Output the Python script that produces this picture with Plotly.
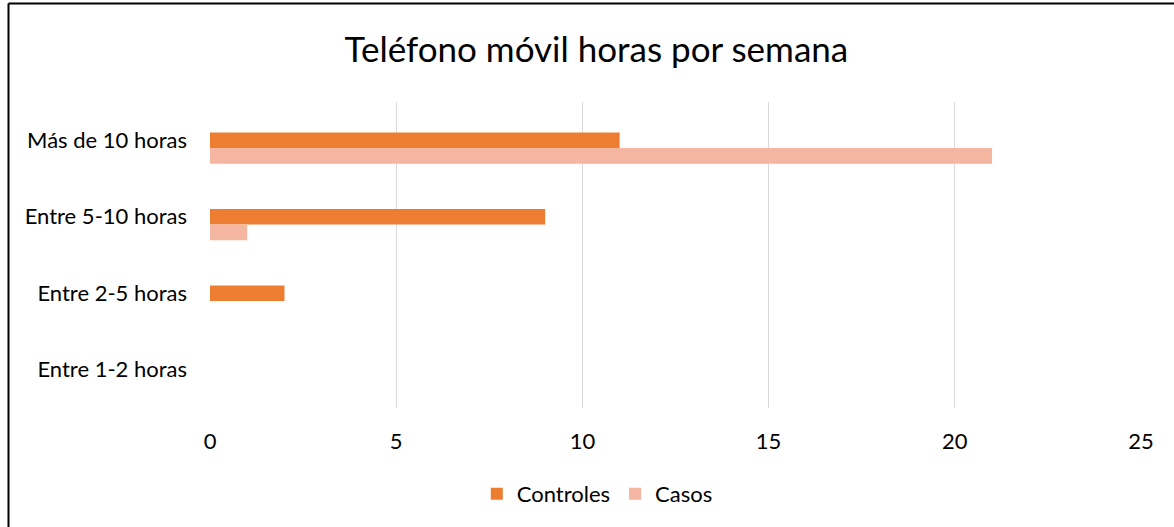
import plotly.graph_objects as go

categories = ["Más de 10 horas", "Entre 5-10 horas", "Entre 2-5 horas", "Entre 1-2 horas"]
controles = [11, 9, 2, 0]
casos = [21, 1, 0, 0]
x_ticks = [0, 5, 10, 15, 20, 25]
title_text = "Teléfono móvil horas por semana"

W, H = 1174, 527
L, R, T, B = 210, 33, 102, 119
pw, ph = W - L - R, H - T - B

font = "Lato, 'Open Sans', sans-serif"

fig = go.Figure()
fig.add_trace(go.Bar(y=categories, x=controles, name="Controles", orientation="h",
                     marker=dict(color="#ED7D31", line=dict(width=0)),
                     width=0.205, offset=-0.1025))
fig.add_trace(go.Bar(y=categories, x=casos, name="Casos", orientation="h",
                     marker=dict(color="#F4B6A1", line=dict(width=0)),
                     width=0.205, offset=0.1025))

def px_x(p):
    return (p - L) / pw

def px_y(p):
    return (H - B - p) / ph

fig.update_layout(
    width=W, height=H,
    margin=dict(l=L, r=R, t=T, b=B),
    paper_bgcolor="white", plot_bgcolor="white",
    font=dict(family=font, size=22, color="#000000"),
    title=dict(text=title_text, x=0.508, xanchor="center", y=1 - 50 / H, yanchor="middle",
               font=dict(family=font, size=35, color="#000000")),
    xaxis=dict(range=[0, 25], tickvals=x_ticks, showgrid=True, gridcolor="#D9D9D9", gridwidth=1.3,
               zeroline=False, showline=False, ticks="", tickfont=dict(size=22), ticklabelstandoff=18),
    yaxis=dict(type="category", categoryorder="array", categoryarray=categories,
               autorange="reversed", showgrid=False, zeroline=False, showline=False,
               ticks="", tickfont=dict(size=22), ticklabelstandoff=22),
    legend=dict(orientation="h", x=0.416, xanchor="center", y=px_y(494), yanchor="middle",
                font=dict(size=22), itemwidth=30, traceorder="normal"),
    showlegend=True,
    shapes=[
        dict(type="line", xref="paper", yref="paper", x0=px_x(8.5), x1=px_x(8.5),
             y0=px_y(3.5), y1=px_y(H + 5), line=dict(color="black", width=2)),
        dict(type="line", xref="paper", yref="paper", x0=px_x(8.5), x1=px_x(W + 5),
             y0=px_y(3.5), y1=px_y(3.5), line=dict(color="black", width=2)),
    ],
)

fig.write_html("out.html", config={"displayModeBar": False},
               post_script="document.body.style.margin='0';document.body.style.overflow='hidden';")
